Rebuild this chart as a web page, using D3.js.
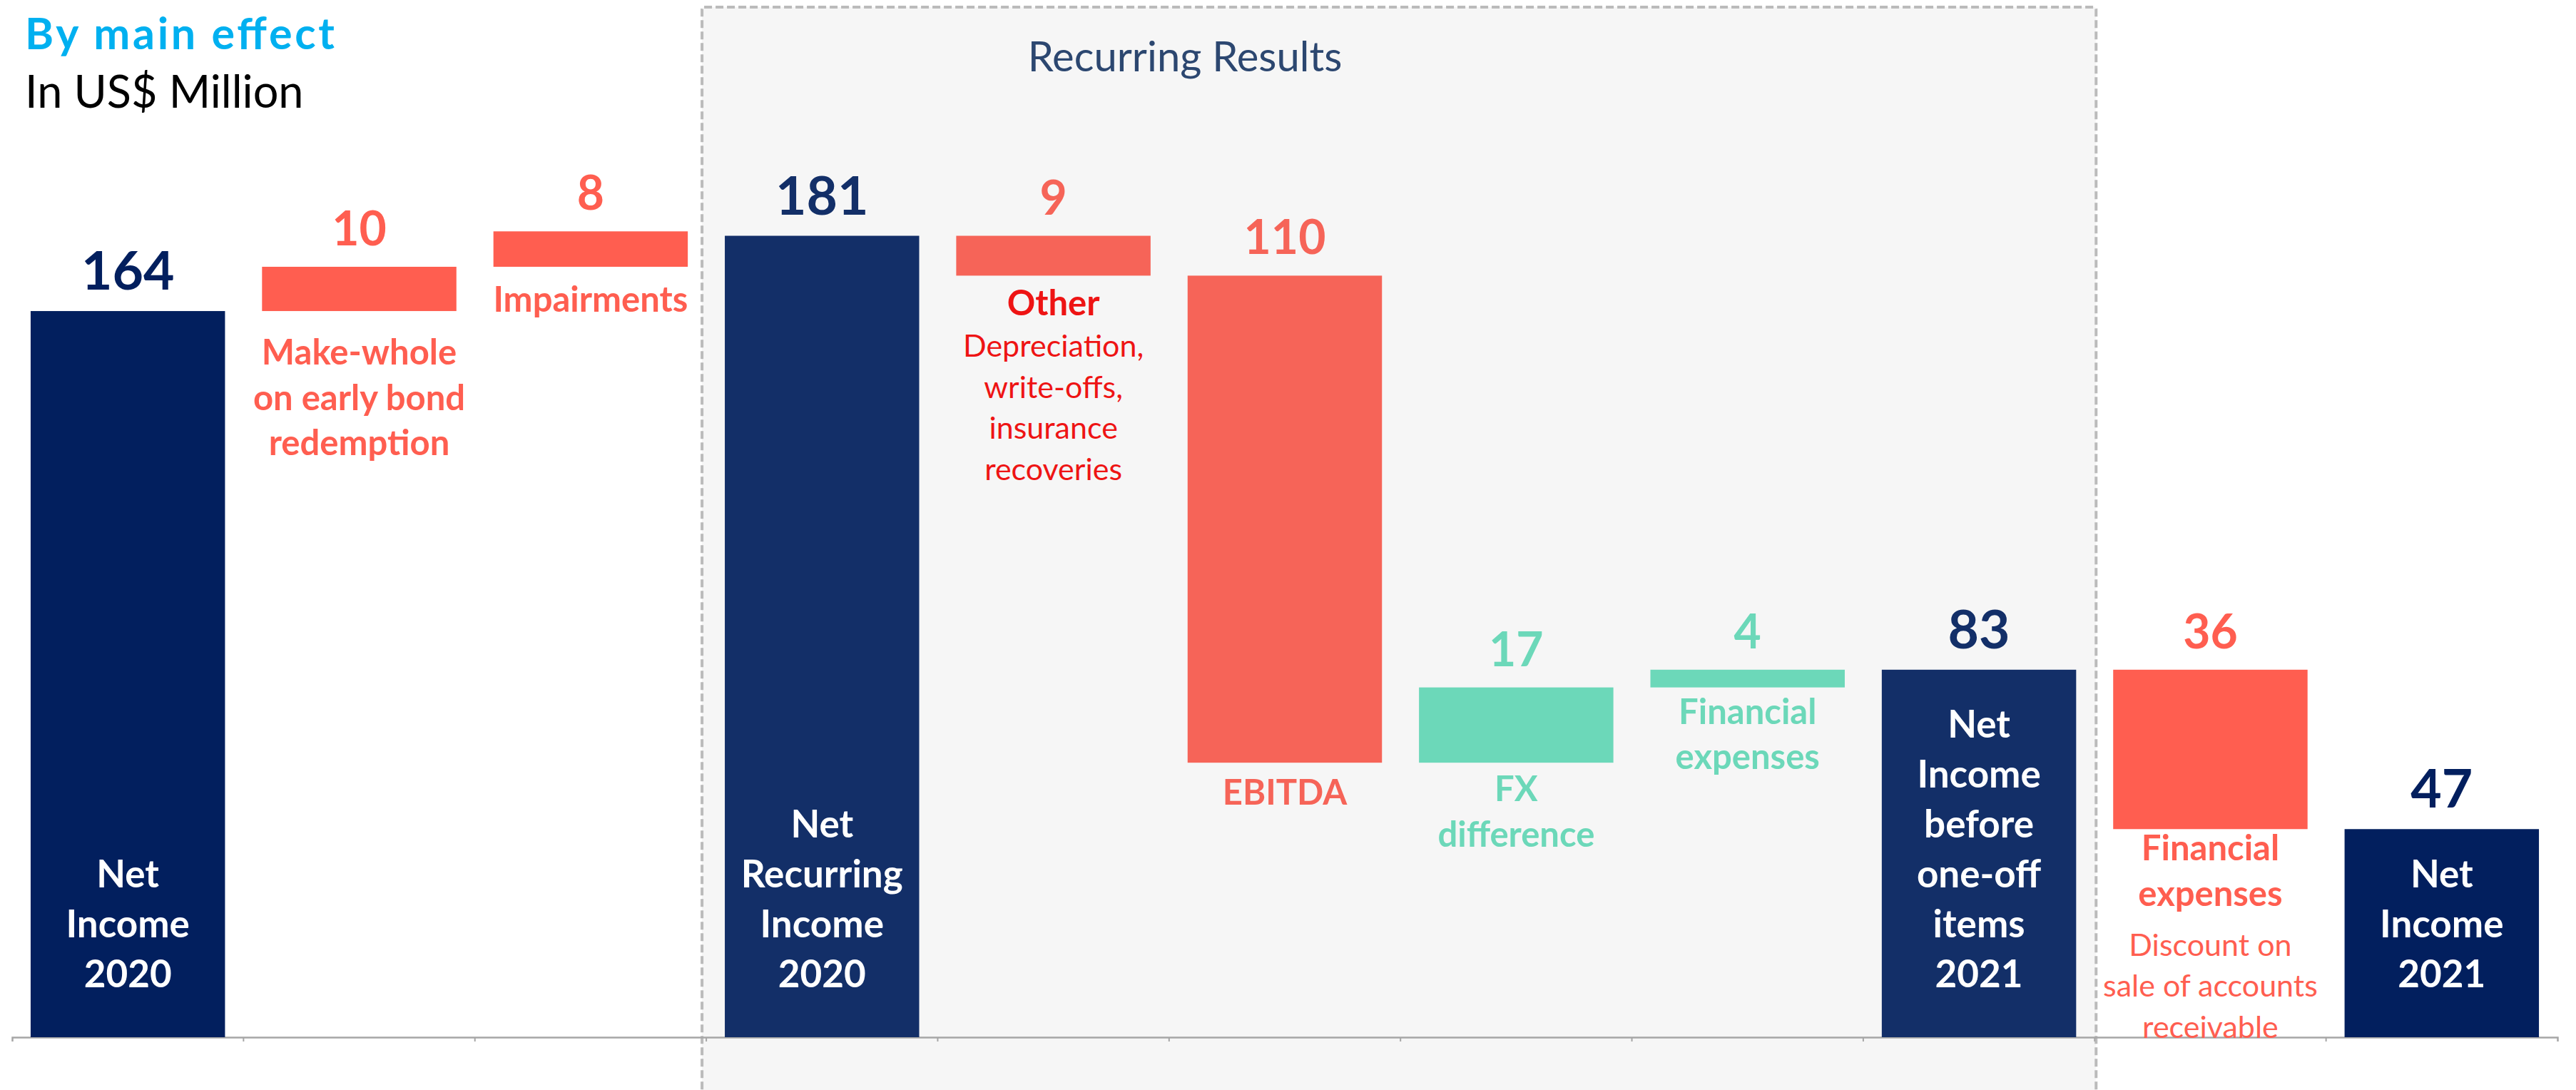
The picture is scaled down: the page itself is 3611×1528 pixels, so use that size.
<!DOCTYPE html>
<html>
<head>
<meta charset="utf-8">
<script src="https://cdn.jsdelivr.net/npm/d3@7"></script>
<style>
  html, body { margin: 0; padding: 0; background: #ffffff; }
  svg { display: block; }
  text { font-family: "Lato", "Open Sans", sans-serif; }
</style>
</head>
<body>
<svg id="chart" width="3611" height="1528"></svg>
<script>
// ---------------- DATA ----------------
const categories = [
  "Net Income 2020", "Make-whole on early bond redemption", "Impairments",
  "Net Recurring Income 2020", "Other", "EBITDA", "FX difference",
  "Financial expenses", "Net Income before one-off items 2021",
  "Financial expenses (one-off)", "Net Income 2021"
];
// signed effect on the running level; totals are absolute
const values   = [164, 10, 8, 181, -9, -110, 17, 4, 83, -36, 47];
const barTypes = ["total", "delta", "delta", "total", "delta", "delta", "delta", "delta", "total", "delta", "total"];
const valueLabels = ["164", "10", "8", "181", "9", "110", "17", "4", "83", "36", "47"];
const labelLines = [
  ["Net", "Income", "2020"],
  ["Make-whole", "on early bond", "redemption"],
  ["Impairments"],
  ["Net", "Recurring", "Income", "2020"],
  ["Other"],
  ["EBITDA"],
  ["FX", "difference"],
  ["Financial", "expenses"],
  ["Net", "Income", "before", "one-off", "items", "2021"],
  ["Financial", "expenses"],
  ["Net", "Income", "2021"]
];
const noteLines = [
  [], [], [], [],
  ["Depreciation,", "write-offs,", "insurance", "recoveries"],
  [], [], [], [],
  ["Discount on", "sale of accounts", "receivable"],
  []
];
const titleText = "By main effect";
const subtitleText = "In US$ Million";
const groupTitle = "Recurring Results";
const groupRange = [3, 8]; // first and last category index inside the "Recurring Results" box

// ---------------- STYLE / LAYOUT ----------------
const barColors = ["#021F5E", "#FF5E50", "#FF5E50", "#132F68", "#F66458", "#F66458",
                   "#6CD8B9", "#6CD8B9", "#132F68", "#FF5E50", "#021F5E"];
const labelColors = ["#FFFFFF", "#FF5E50", "#FF5E50", "#FFFFFF", "#EE1414", "#F66458",
                     "#6CD8B9", "#6CD8B9", "#FFFFFF", "#FF5E50", "#FFFFFF"];
const noteColors  = [null, null, null, null, "#EE1414", null, null, null, null, "#FF5E50", null];
const labelGap = [0, 75, 63, 0, 56, 59, 54, 51, 0, 44, 0];   // baseline of first label line below the bar
const noteGap  = [0, 0, 0, 0, 58, 0, 0, 0, 0, 70, 0];       // from last bold line to first note line

const W = 3611, H = 1528;
const baseY = 1454;
const pxPerUnit = 6.207;

const svg = d3.select("#chart");
svg.append("rect").attr("width", W).attr("height", H).attr("fill", "#FFFFFF");

const x = d3.scaleBand()
  .domain(d3.range(categories.length))
  .range([17, 3585])
  .paddingInner(0.16)
  .paddingOuter(0.08);

const y = d3.scaleLinear().domain([0, 230]).range([baseY, baseY - 230 * pxPerUnit]);

// waterfall extents
let level = 0;
const bars = values.map((v, i) => {
  let y0, y1;
  if (barTypes[i] === "total") { y0 = 0; y1 = v; level = v; }
  else { y0 = level; y1 = level + v; level = y1; }
  return { i, v, y0, y1, lo: Math.min(y0, y1), hi: Math.max(y0, y1) };
});

// ---------------- Recurring Results box ----------------
const step = x.step();
const boxLeft = x(groupRange[0]) - step * 0.16 / 2 - 6;
const boxRight = x(groupRange[1]) + x.bandwidth() + step * 0.16 / 2 + 2;
svg.append("rect")
  .attr("x", boxLeft).attr("y", 10)
  .attr("width", boxRight - boxLeft).attr("height", 1600)
  .attr("rx", 3)
  .attr("fill", "#F6F6F6")
  .attr("stroke", "#BBBBBB")
  .attr("stroke-width", 4)
  .attr("stroke-dasharray", "11,5");

svg.append("text")
  .attr("x", 1661).attr("y", 100)
  .attr("text-anchor", "middle")
  .attr("font-size", 58)
  .attr("fill", "#2C4770")
  .text(groupTitle);

// ---------------- Titles ----------------
svg.append("text")
  .attr("x", 35).attr("y", 69)
  .attr("font-size", 61).attr("font-weight", 700)
  .attr("fill", "#00B0F0")
  .attr("textLength", 434).attr("lengthAdjust", "spacing")
  .text(titleText);
svg.append("text")
  .attr("x", 35).attr("y", 151)
  .attr("font-size", 63)
  .attr("fill", "#000000")
  .text(subtitleText);

// ---------------- Axis ----------------
const axisG = svg.append("g").attr("transform", `translate(0,${baseY})`);
axisG.call(d3.axisBottom(x).tickSizeInner(0).tickSizeOuter(6).tickFormat(""));
axisG.select(".domain").attr("stroke", "#A6A6A6").attr("stroke-width", 2.5);
axisG.selectAll(".tick").remove();
axisG.selectAll("line.boundary")
  .data(d3.range(1, categories.length))
  .enter().append("line")
  .attr("class", "boundary")
  .attr("x1", i => x(i) - step * 0.16 / 2)
  .attr("x2", i => x(i) - step * 0.16 / 2)
  .attr("y1", 0).attr("y2", 6)
  .attr("stroke", "#A6A6A6").attr("stroke-width", 2);

// ---------------- Bars ----------------
svg.append("g").selectAll("rect")
  .data(bars)
  .enter().append("rect")
  .attr("x", d => x(d.i))
  .attr("width", x.bandwidth())
  .attr("y", d => y(d.hi))
  .attr("height", d => y(d.lo) - y(d.hi))
  .attr("fill", d => barColors[d.i]);

// value labels
svg.append("g").selectAll("text")
  .data(bars)
  .enter().append("text")
  .attr("x", d => x(d.i) + x.bandwidth() / 2)
  .attr("y", d => y(d.hi) - 30)
  .attr("text-anchor", "middle")
  .attr("font-weight", 700)
  .attr("font-size", d => barTypes[d.i] === "total" ? 75 : 66)
  .attr("fill", d => barColors[d.i])
  .text(d => valueLabels[d.i]);

// category labels
const labelG = svg.append("g");
bars.forEach(d => {
  const cx = x(d.i) + x.bandwidth() / 2;
  const lines = labelLines[d.i];
  if (barTypes[d.i] === "total") {
    const lh = 70;
    const lastBase = baseY - 70;
    lines.forEach((ln, k) => {
      labelG.append("text")
        .attr("x", cx)
        .attr("y", lastBase - (lines.length - 1 - k) * lh)
        .attr("text-anchor", "middle")
        .attr("font-weight", 700)
        .attr("font-size", 53)
        .attr("fill", labelColors[d.i])
        .text(ln);
    });
  } else {
    const lh = 63.5;
    const first = y(d.lo) + labelGap[d.i];
    lines.forEach((ln, k) => {
      labelG.append("text")
        .attr("x", cx)
        .attr("y", first + k * lh)
        .attr("text-anchor", "middle")
        .attr("font-weight", 700)
        .attr("font-size", 49)
        .attr("fill", labelColors[d.i])
        .text(ln);
    });
    const notes = noteLines[d.i];
    const nStart = first + (lines.length - 1) * lh + noteGap[d.i];
    notes.forEach((ln, k) => {
      labelG.append("text")
        .attr("x", cx)
        .attr("y", nStart + k * 57.5)
        .attr("text-anchor", "middle")
        .attr("font-size", 43)
        .attr("fill", noteColors[d.i])
        .text(ln);
    });
  }
});
</script>
</body>
</html>
